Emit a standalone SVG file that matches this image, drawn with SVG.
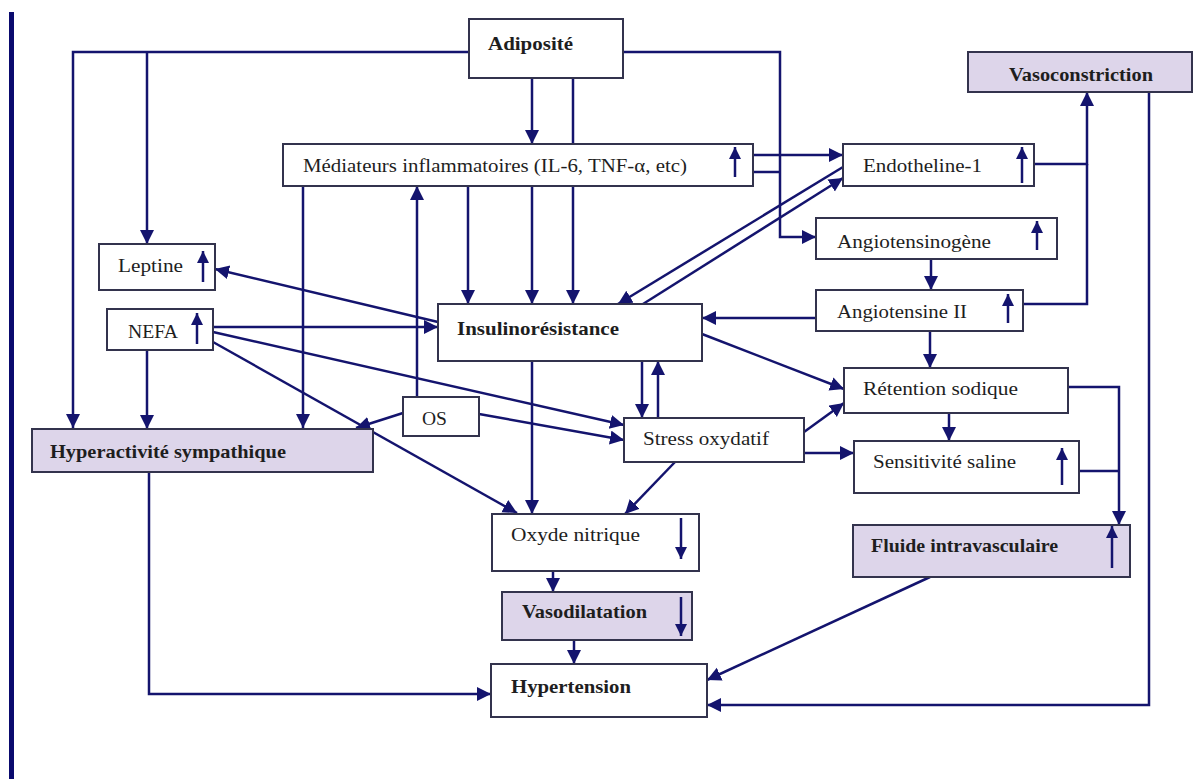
<svg xmlns="http://www.w3.org/2000/svg" width="1203" height="779" viewBox="0 0 1203 779">
  <defs>
    <marker id="ah" markerUnits="userSpaceOnUse" markerWidth="16" markerHeight="16" refX="14" refY="7" orient="auto">
      <path d="M0,0 L14,7 L0,14 z" fill="#14146e"/>
    </marker>
    <marker id="sm" markerUnits="userSpaceOnUse" markerWidth="14" markerHeight="14" refX="12" refY="6" orient="auto">
      <path d="M0,0 L12,6 L0,12 z" fill="#14146e"/>
    </marker>
    <style>
      .box { fill: #ffffff; stroke: #33334d; stroke-width: 2; }
      .hi { fill: #ddd5ea; stroke: #33334d; stroke-width: 2; }
      .lbl { font-family: "Liberation Serif", "Times New Roman", serif; font-size: 19px; fill: #1e1e1e; }
      .b { font-weight: bold; }
      .wire { fill: none; stroke: #14146e; stroke-width: 2.5; }
      .arr { marker-end: url(#ah); }
      .ind { stroke: #14146e; stroke-width: 2.5; marker-end: url(#sm); }
    </style>
  </defs>

  <rect x="9" y="12" width="5" height="767" fill="#0a0a6e"/>

  <g id="connectors">
    <path class="wire arr" d="M469,52 H73 V428"/>
    <path class="wire arr" d="M147,52 V244"/>
    <path class="wire arr" d="M623,52 H780 V237 H816"/>
    <path class="wire arr" d="M532,78 V144"/>
    <path class="wire arr" d="M573,78 V304"/>
    <path class="wire arr" d="M468,186 V304"/>
    <path class="wire arr" d="M532,186 V304"/>
    <path class="wire arr" d="M303,186 V428"/>
    <path class="wire arr" d="M417,397 V186"/>
    <path class="wire arr" d="M753,155 H843"/>
    <path class="wire" d="M753,172 H780"/>
    <path class="wire arr" d="M843,167 L618,304"/>
    <path class="wire arr" d="M643,304 L843,178"/>
    <path class="wire arr" d="M1034,164 H1087 V92"/>
    <path class="wire" d="M1023,304 H1087 V164"/>
    <path class="wire arr" d="M1149,92 V705 H707"/>
    <path class="wire arr" d="M931,259 V290"/>
    <path class="wire arr" d="M816,318 H702"/>
    <path class="wire arr" d="M930,331 V368"/>
    <path class="wire arr" d="M702,334 L844,389"/>
    <path class="wire arr" d="M1068,387 H1119 V525"/>
    <path class="wire" d="M1079,471 H1119"/>
    <path class="wire arr" d="M949,413 V441"/>
    <path class="wire arr" d="M804,432 L844,403"/>
    <path class="wire arr" d="M804,453 H854"/>
    <path class="wire arr" d="M675,462 L625,514"/>
    <path class="wire arr" d="M642,361 V418"/>
    <path class="wire arr" d="M658,418 V361"/>
    <path class="wire arr" d="M532,361 V514"/>
    <path class="wire arr" d="M438,322 L215,269"/>
    <path class="wire arr" d="M213,327 H438"/>
    <path class="wire arr" d="M213,332 L624,425"/>
    <path class="wire arr" d="M213,342 L517,513"/>
    <path class="wire arr" d="M147,350 V429"/>
    <path class="wire arr" d="M403,413 L356,428"/>
    <path class="wire arr" d="M479,414 L624,440"/>
    <path class="wire arr" d="M149,472 V694 H491"/>
    <path class="wire arr" d="M553,571 V592"/>
    <path class="wire arr" d="M574,640 V664"/>
    <path class="wire arr" d="M930,577 L707,680"/>
  </g>

  <g id="adiposite">
    <rect class="box" x="469" y="19" width="154" height="59"/>
    <text class="lbl b" x="488" y="50" textLength="85" lengthAdjust="spacingAndGlyphs">Adiposité</text>
  </g>
  <g id="mediateurs">
    <rect class="box" x="283" y="144" width="470" height="42"/>
    <text class="lbl" x="303" y="172" textLength="384" lengthAdjust="spacingAndGlyphs">Médiateurs inflammatoires (IL-6, TNF-α, etc)</text>
    <line class="ind" x1="735" y1="177" x2="735" y2="147"/>
  </g>
  <g id="endotheline">
    <rect class="box" x="843" y="144" width="191" height="42"/>
    <text class="lbl" x="863" y="172" textLength="119" lengthAdjust="spacingAndGlyphs">Endotheline-1</text>
    <line class="ind" x1="1022" y1="183" x2="1022" y2="147"/>
  </g>
  <g id="vasoconstriction">
    <rect class="hi" x="968" y="52" width="224" height="40"/>
    <text class="lbl b" x="1009" y="81" textLength="144" lengthAdjust="spacingAndGlyphs">Vasoconstriction</text>
  </g>
  <g id="angiotensinogene">
    <rect class="box" x="816" y="218" width="241" height="41"/>
    <text class="lbl" x="837" y="248" textLength="154" lengthAdjust="spacingAndGlyphs">Angiotensinogène</text>
    <line class="ind" x1="1037" y1="250" x2="1037" y2="221"/>
  </g>
  <g id="angiotensine-ii">
    <rect class="box" x="816" y="290" width="207" height="41"/>
    <text class="lbl" x="837" y="318" textLength="130" lengthAdjust="spacingAndGlyphs">Angiotensine II</text>
    <line class="ind" x1="1008" y1="323" x2="1008" y2="294"/>
  </g>
  <g id="retention">
    <rect class="box" x="844" y="368" width="224" height="45"/>
    <text class="lbl" x="863" y="395" textLength="155" lengthAdjust="spacingAndGlyphs">Rétention sodique</text>
  </g>
  <g id="sensitivite">
    <rect class="box" x="854" y="441" width="225" height="52"/>
    <text class="lbl" x="873" y="468" textLength="143" lengthAdjust="spacingAndGlyphs">Sensitivité saline</text>
    <line class="ind" x1="1062" y1="485" x2="1062" y2="448"/>
  </g>
  <g id="fluide">
    <rect class="hi" x="853" y="525" width="277" height="52"/>
    <text class="lbl b" x="871" y="552" textLength="187" lengthAdjust="spacingAndGlyphs">Fluide intravasculaire</text>
    <line class="ind" x1="1112" y1="568" x2="1112" y2="526"/>
  </g>
  <g id="insulinoresistance">
    <rect class="box" x="438" y="304" width="264" height="57"/>
    <text class="lbl b" x="457" y="335" textLength="162" lengthAdjust="spacingAndGlyphs">Insulinorésistance</text>
  </g>
  <g id="stress">
    <rect class="box" x="624" y="418" width="180" height="44"/>
    <text class="lbl" x="643" y="445" textLength="126" lengthAdjust="spacingAndGlyphs">Stress oxydatif</text>
  </g>
  <g id="os">
    <rect class="box" x="403" y="397" width="76" height="39"/>
    <text class="lbl" x="422" y="425" textLength="25" lengthAdjust="spacingAndGlyphs">OS</text>
  </g>
  <g id="leptine">
    <rect class="box" x="99" y="244" width="116" height="46"/>
    <text class="lbl" x="118" y="272" textLength="65" lengthAdjust="spacingAndGlyphs">Leptine</text>
    <line class="ind" x1="203" y1="282" x2="203" y2="251"/>
  </g>
  <g id="nefa">
    <rect class="box" x="107" y="309" width="106" height="41"/>
    <text class="lbl" x="128" y="338" textLength="50" lengthAdjust="spacingAndGlyphs">NEFA</text>
    <line class="ind" x1="197" y1="344" x2="197" y2="313"/>
  </g>
  <g id="hyperactivite">
    <rect class="hi" x="32" y="429" width="341" height="43"/>
    <text class="lbl b" x="50" y="458" textLength="236" lengthAdjust="spacingAndGlyphs">Hyperactivité sympathique</text>
  </g>
  <g id="oxyde-nitrique">
    <rect class="box" x="492" y="514" width="207" height="57"/>
    <text class="lbl" x="511" y="541" textLength="129" lengthAdjust="spacingAndGlyphs">Oxyde nitrique</text>
    <line class="ind" x1="681" y1="518" x2="681" y2="559"/>
  </g>
  <g id="vasodilatation">
    <rect class="hi" x="502" y="592" width="190" height="48"/>
    <text class="lbl b" x="522" y="618" textLength="125" lengthAdjust="spacingAndGlyphs">Vasodilatation</text>
    <line class="ind" x1="681" y1="597" x2="681" y2="636"/>
  </g>
  <g id="hypertension">
    <rect class="box" x="491" y="664" width="216" height="53"/>
    <text class="lbl b" x="511" y="693" textLength="120" lengthAdjust="spacingAndGlyphs">Hypertension</text>
  </g>
</svg>
